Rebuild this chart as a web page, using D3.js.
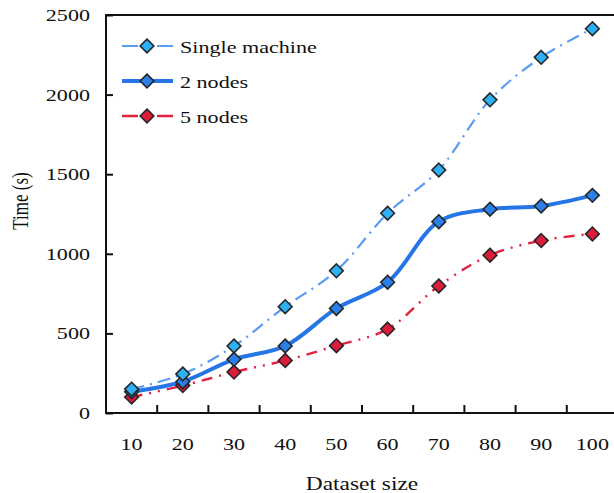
<!DOCTYPE html>
<html>
<head>
	<title></title>
	<style type="text/css">
		body { margin: 0; background: white; }
		svg { display: block; }
		text { font-family: "Liberation Serif", "Times New Roman", serif; fill: #111; }
	</style>
</head>
<body>
  <div class="container"></div>
  <script src="https://d3js.org/d3.v7.min.js"></script>
 <script type="text/javascript">
var wd = 614
var ht = 493

// data
var sizes = [10, 20, 30, 40, 50, 60, 70, 80, 90, 100]
var singleMachine = [150, 245, 421, 668, 893, 1255, 1526, 1967, 2234, 2414]
var twoNodes = [134, 197, 337, 421, 657, 821, 1202, 1280, 1300, 1367]
var fiveNodes = [100, 172, 257, 330, 423, 527, 798, 991, 1083, 1125]
var yTicks = [0, 500, 1000, 1500, 2000, 2500]
var seriesNames = ["Single machine", "2 nodes", "5 nodes"]

var series = [
  {name: seriesNames[0], vals: singleMachine, line: "#5b9cf0", fill: "#2eb0f6", width: 2.2, dash: "13,6,2,6"},
  {name: seriesNames[1], vals: twoNodes, line: "#2575e6", fill: "#2a7fe8", width: 4, dash: null},
  {name: seriesNames[2], vals: fiveNodes, line: "#e0233f", fill: "#dc1c3a", width: 2.4, dash: "11,7,2,7,2,7"}
]

var stretch = 1.3 // text in the picture is wider than it is tall

var margin = {left: 106, top: 15, bottom: 413}

var svgCont = d3.select(".container").append("svg")
.attr("width", wd)
.attr("height", ht)

var x = d3.scaleBand()
.domain(sizes)
.range([margin.left, margin.left + 51.2 * sizes.length])

var y = d3.scaleLinear()
.domain([0, 2500])
.range([margin.bottom, margin.top])

// frame
svgCont.append("rect")
.attr("x", margin.left)
.attr("y", margin.top)
.attr("width", x.range()[1] - margin.left)
.attr("height", margin.bottom - margin.top)
.attr("fill", "none")
.attr("stroke", "#111")
.attr("stroke-width", 2)

// x axis ticks at band edges
var xEdges = sizes.slice(1).map(function(d) { return x(d) })
svgCont.selectAll(".xtick")
.data(xEdges)
.enter().append("line")
.attr("x1", function(d) { return d }).attr("x2", function(d) { return d })
.attr("y1", margin.bottom).attr("y2", margin.bottom - 8)
.attr("stroke", "#111").attr("stroke-width", 2)

svgCont.selectAll(".xlab")
.data(sizes)
.enter().append("text")
.attr("transform", function(d) { return "translate(" + (x(d) + x.bandwidth() / 2) + ",450) scale(" + stretch + ",1)" })
.attr("text-anchor", "middle")
.style("font-size", "17px")
.text(function(d) { return d })

// y axis
var yAxis = svgCont.append("g")
.attr("transform", "translate(" + margin.left + ",0)")
.call(d3.axisRight(y).tickValues(yTicks).tickSize(7).tickPadding(0).tickFormat(""))
yAxis.select(".domain").remove()
yAxis.selectAll("line").attr("stroke", "#111").attr("stroke-width", 2)

svgCont.selectAll(".ylab")
.data(yTicks)
.enter().append("text")
.attr("transform", function(d) { return "translate(90," + (y(d) + 6) + ") scale(" + stretch + ",1)" })
.attr("text-anchor", "end")
.style("font-size", "17px")
.text(function(d) { return d })

// axis titles
svgCont.append("text")
.attr("transform", "translate(362,490) scale(" + stretch + ",1)")
.attr("text-anchor", "middle")
.style("font-size", "18px")
.text("Dataset size")

svgCont.append("text")
.attr("transform", "translate(28,201) scale(" + stretch + ",1) rotate(-90)")
.attr("text-anchor", "middle")
.style("font-size", "17px")
.text("Time (s)")

var lineGen = d3.line()
.x(function(d, i) { return x(sizes[i]) + x.bandwidth() / 2 })
.y(function(d) { return y(d) })
.curve(d3.curveCatmullRom.alpha(0.5))

var diamond = d3.symbol().type(d3.symbolDiamond2).size(120)

// draw bottom-most series first so the top line ends up above
series.slice().reverse().forEach(function(s) {
  svgCont.append("path")
  .attr("d", lineGen(s.vals))
  .attr("fill", "none")
  .attr("stroke", s.line)
  .attr("stroke-width", s.width)
  .attr("stroke-dasharray", s.dash)
})

series.slice().reverse().forEach(function(s) {
  svgCont.selectAll(null)
  .data(s.vals)
  .enter().append("path")
  .attr("d", diamond)
  .attr("transform", function(d, i) { return "translate(" + (x(sizes[i]) + x.bandwidth() / 2) + "," + y(d) + ")" })
  .attr("fill", s.fill)
  .attr("stroke", "#262626")
  .attr("stroke-width", 1.6)
})

// legend
var leg = svgCont.selectAll(".leg")
.data(series)
.enter().append("g")
.attr("transform", function(d, i) { return "translate(0," + (46 + i * 35) + ")" })

leg.append("line")
.attr("x1", 122).attr("x2", 173)
.attr("y1", 0).attr("y2", 0)
.attr("stroke", function(d) { return d.line })
.attr("stroke-width", function(d) { return d.width })
.attr("stroke-dasharray", function(d) { return d.dash ? "16,8,3,8" : null })

leg.append("path")
.attr("d", diamond)
.attr("transform", "translate(147,0)")
.attr("fill", function(d) { return d.fill })
.attr("stroke", "#262626")
.attr("stroke-width", 1.6)

leg.append("text")
.attr("transform", "translate(180,7) scale(" + stretch + ",1)")
.style("font-size", "17px")
.text(function(d) { return d.name })
 </script>
</body>
</html>
